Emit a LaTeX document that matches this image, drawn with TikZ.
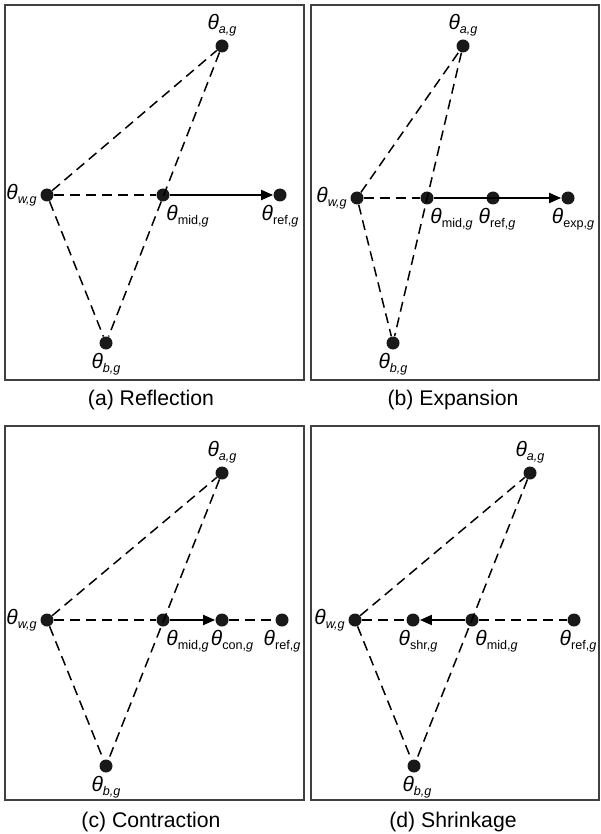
\documentclass[tikz,border=0pt]{standalone}
\usepackage{fontspec}
\setmainfont{Liberation Sans}
\usetikzlibrary{arrows.meta}
\newcommand{\thsub}[1]{\textit{θ}\raisebox{-2pt}{\fontsize{6.3}{7}\selectfont #1}}

\begin{document}
\begin{tikzpicture}[
    x=0.5pt, y=-0.5pt,
    dot/.style={circle, fill=black!90, inner sep=0pt, minimum size=6.5pt},
    lab/.style={font=\fontsize{10.5}{12}\selectfont, inner sep=1.5pt},
    midlab/.style={lab, anchor=north west, xshift=0pt},
    frame/.style={draw=black!75, line width=1pt},
    link/.style={dash pattern=on 5pt off 3pt, line width=0.75pt},
    move/.style={-{Triangle[length=6pt,width=5pt]}, line width=1pt},
    caption/.style={font=\fontsize{10.6}{12}\selectfont}
]
    \useasboundingbox (0,0) rectangle (600,834);

    % Frames
    \draw[frame] (5,5) rectangle (304,380);
    \draw[frame] (311,5) rectangle (599,380);
    \draw[frame] (5,426) rectangle (304,800);
    \draw[frame] (311,426) rectangle (599,800);

    % (a) Reflection
    \node[dot, label={[lab]above:\thsub{\textit{a,g}}}] (refl-a) at (222,46) {};
    \node[dot, label={[lab]left:\thsub{\textit{w,g}}}] (refl-w) at (47,195) {};
    \node[dot, label={[lab]below:\thsub{\textit{b,g}}}] (refl-b) at (106,343) {};
    \node[dot, label={[midlab]below:\thsub{mid,\textit{g}}}] (refl-mid) at (163,195) {};
    \node[dot, label={[lab]below:\thsub{ref,\textit{g}}}] (refl-ref) at (280,195) {};
    \draw[link] (refl-w) -- (refl-a);
    \draw[link] (refl-w) -- (refl-b);
    \draw[link] (refl-a) -- (refl-b);
    \draw[link] (refl-w) -- (refl-mid);
    \draw[move] (refl-mid) -- (refl-ref);
    \node[caption] (cap-a) at (151,400) {(a) Reflection};

    % (b) Expansion
    \node[dot, label={[lab]above:\thsub{\textit{a,g}}}] (exp-a) at (463,46) {};
    \node[dot, label={[lab]left:\thsub{\textit{w,g}}}] (exp-w) at (357,198) {};
    \node[dot, label={[lab]below:\thsub{\textit{b,g}}}] (exp-b) at (393,343) {};
    \node[dot, label={[midlab]below:\thsub{mid,\textit{g}}}] (exp-mid) at (427,198) {};
    \node[dot, label={[lab,xshift=2pt]below:\thsub{ref,\textit{g}}}] (exp-ref) at (493,198) {};
    \node[dot, label={[lab,xshift=2.5pt]below:\thsub{exp,\textit{g}}}] (exp-exp) at (568,198) {};
    \draw[link] (exp-w) -- (exp-a);
    \draw[link] (exp-w) -- (exp-b);
    \draw[link] (exp-a) -- (exp-b);
    \draw[link] (exp-w) -- (exp-mid);
    \draw[move] (exp-mid) -- (exp-exp);
    \node[caption] (cap-b) at (453,400) {(b) Expansion};

    % (c) Contraction
    \node[dot, label={[lab]above:\thsub{\textit{a,g}}}] (con-a) at (222,473) {};
    \node[dot, label={[lab]left:\thsub{\textit{w,g}}}] (con-w) at (47,620) {};
    \node[dot, label={[lab]below:\thsub{\textit{b,g}}}] (con-b) at (106,766) {};
    \node[dot, label={[midlab]below:\thsub{mid,\textit{g}}}] (con-mid) at (163,620) {};
    \node[dot, label={[lab,xshift=5pt]below:\thsub{con,\textit{g}}}] (con-con) at (222,620) {};
    \node[dot, label={[lab]below:\thsub{ref,\textit{g}}}] (con-ref) at (282,620) {};
    \draw[link] (con-w) -- (con-a);
    \draw[link] (con-w) -- (con-b);
    \draw[link] (con-a) -- (con-b);
    \draw[link] (con-w) -- (con-mid);
    \draw[move] (con-mid) -- (con-con);
    \draw[link] (con-con) -- (con-ref);
    \node[caption] (cap-c) at (151,822) {(c) Contraction};

    % (d) Shrinkage
    \node[dot, label={[lab]above:\thsub{\textit{a,g}}}] (shr-a) at (530,473) {};
    \node[dot, label={[lab]left:\thsub{\textit{w,g}}}] (shr-w) at (355,620) {};
    \node[dot, label={[lab,xshift=1.5pt]below:\thsub{\textit{b,g}}}] (shr-b) at (414,766) {};
    \node[dot, label={[lab,xshift=2.5pt]below:\thsub{shr,\textit{g}}}] (shr-shr) at (413,620) {};
    \node[dot, label={[midlab]below:\thsub{mid,\textit{g}}}] (shr-mid) at (472,620) {};
    \node[dot, label={[lab,xshift=2pt]below:\thsub{ref,\textit{g}}}] (shr-ref) at (574,620) {};
    \draw[link] (shr-w) -- (shr-a);
    \draw[link] (shr-w) -- (shr-b);
    \draw[link] (shr-a) -- (shr-b);
    \draw[link] (shr-w) -- (shr-shr);
    \draw[move] (shr-mid) -- (shr-shr);
    \draw[link] (shr-mid) -- (shr-ref);
    \node[caption] (cap-d) at (453,822) {(d) Shrinkage};

\end{tikzpicture}
\end{document}
